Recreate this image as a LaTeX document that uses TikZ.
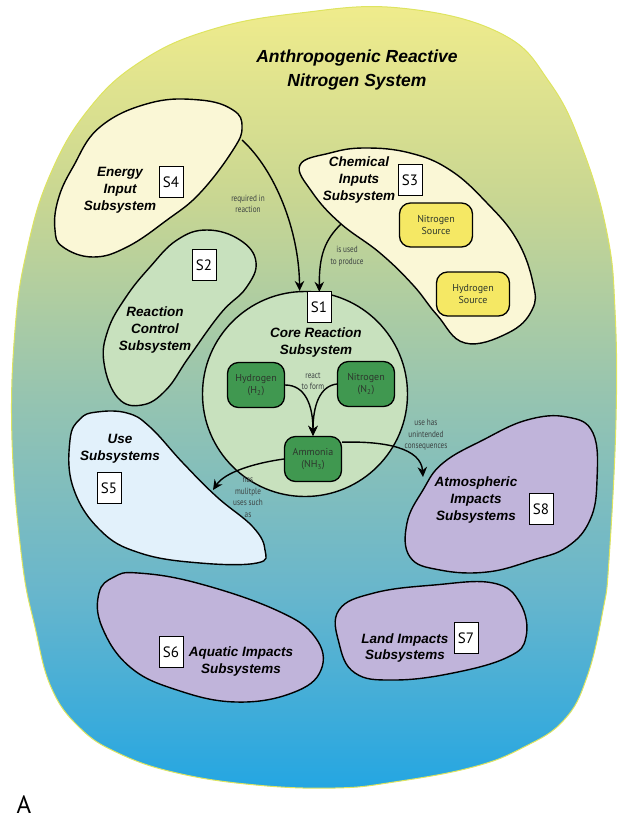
\documentclass[tikz,border=0pt]{standalone}
\usepackage{fontspec}
\setmainfont{Liberation Sans}
\newfontfamily\labfont{PT Sans}
\newfontfamily\narrowfont[FakeStretch=0.8]{PT Sans}
\usetikzlibrary{arrows.meta,shapes}

\definecolor{oTop}{RGB}{240,236,140}
\definecolor{oUp}{RGB}{200,214,146}
\definecolor{oMid}{RGB}{150,196,176}
\definecolor{oLow}{RGB}{104,182,204}
\definecolor{oBot}{RGB}{36,166,226}
\definecolor{outerline}{RGB}{222,228,96}
\definecolor{creamfill}{RGB}{250,247,214}
\definecolor{palegreen}{RGB}{200,225,190}
\definecolor{paleblue}{RGB}{226,241,251}
\definecolor{lavender}{RGB}{192,180,218}
\definecolor{srcyellow}{RGB}{245,232,100}
\definecolor{chemgreen}{RGB}{64,152,80}
\definecolor{darktext}{RGB}{45,55,45}
\definecolor{notegray}{RGB}{60,66,66}

\pgfdeclareverticalshading{outerfade}{100bp}{color(0bp)=(oBot); color(25bp)=(oBot); color(37.5bp)=(oLow); color(50bp)=(oMid); color(62.5bp)=(oUp); color(75bp)=(oTop); color(100bp)=(oTop)}

\begin{document}
\begin{tikzpicture}[x=1pt,y=-1pt,
  blob/.style={draw=black, line width=1.4pt},
  sbox/.style={draw, fill=white, line width=1pt, minimum width=24pt, minimum height=31pt, inner sep=0pt, font=\labfont\fontsize{15}{15}\selectfont},
  head/.style={align=center, font=\bfseries\itshape\fontsize{13.5}{17}\selectfont},
  srcbox/.style={draw, line width=1.3pt, rounded corners=11pt, fill=srcyellow, minimum width=73pt, minimum height=44pt, align=center, inner sep=1pt, text=darktext, font=\labfont\fontsize{10}{12.5}\selectfont},
  chembox/.style={srcbox, fill=chemgreen, minimum width=57pt, minimum height=45pt},
  flow/.style={line width=1.4pt, -{Stealth[length=10pt,width=9.5pt]}},
  note/.style={align=center, text=notegray, font=\narrowfont\fontsize{9}{11.5}\selectfont}]

\useasboundingbox (0,0) rectangle (618,823);

\shadedraw[shading=outerfade, draw=outerline, line width=1pt] plot[smooth cycle, tension=0.7] coordinates {
  (400,8) (500,33) (550,83) (583,150) (607,233) (615,310) (616,420) (609,560)
  (603,610) (587,677) (564,720) (524,747) (473,767) (394,782) (335,788) (256,785)
  (177,773) (118,753) (79,727) (51,687) (35,627) (22,560) (12,440) (15,330)
  (27,250) (50,175) (88,110) (140,62) (210,30) (300,13)};

\node[align=center, font=\bfseries\itshape\fontsize{17.5}{24}\selectfont] (title) at (357,70) {Anthropogenic Reactive\\Nitrogen System};

% outer subsystems
\draw[blob, fill=creamfill] plot[smooth cycle, tension=0.7] coordinates {
  (200,100) (233,110) (242,127) (233,150) (200,193) (167,220) (127,247) (93,257)
  (63,247) (55,230) (58,200) (73,167) (100,127) (150,103)};
\draw[blob, fill=palegreen] plot[smooth cycle, tension=0.7] coordinates {
  (207,230) (240,240) (256,262) (246,288) (221,313) (189,357) (166,390) (142,405)
  (118,398) (104,363) (108,330) (126,297) (150,267) (177,240)};
\draw[blob, fill=creamfill] plot[smooth cycle, tension=0.7] coordinates {
  (300,165) (330,153) (365,148) (410,153) (450,170) (487,203) (517,240) (533,283)
  (532,310) (508,333) (465,343) (437,315) (413,285) (380,253) (340,223) (312,192)};
\draw[blob, fill=paleblue] plot[smooth cycle, tension=0.7] coordinates {
  (97,412) (127,413) (150,427) (183,463) (217,497) (253,527) (265,550) (257,563)
  (200,563) (140,553) (100,530) (73,487) (70,440) (80,419)};
\draw[blob, fill=lavender] plot[smooth cycle, tension=0.7] coordinates {
  (567,417) (593,433) (597,480) (590,520) (567,547) (533,560) (487,572) (440,570)
  (410,557) (407,523) (423,490) (443,463) (483,440) (527,420)};
\draw[blob, fill=lavender] plot[smooth cycle, tension=0.7] coordinates {
  (138,573) (197,583) (276,610) (315,637) (321,670) (292,693) (236,702) (177,690)
  (130,667) (102,627) (99,593) (114,577)};
\draw[blob, fill=lavender] plot[smooth cycle, tension=0.7] coordinates {
  (339,610) (374,593) (434,585) (493,583) (520,603) (526,637) (508,657) (453,673)
  (394,680) (355,673) (339,643)};

\node[circle, draw, line width=1.4pt, fill=palegreen, minimum size=205pt, inner sep=0pt] (core) at (305,394) {};

\coordinate (energyout) at (242,140);
\coordinate (chemout) at (341,224);
\coordinate (usein) at (213,490);
\coordinate (atmoin) at (423,477);

% titles and tags
\node[head] (energy) at (120,190) {Energy\\Input\\Subsystem};
\node[head] (control) at (155,330) {Reaction\\Control\\Subsystem};
\node[head] (chemical) at (359,180) {Chemical\\Inputs\\Subsystem};
\node[head] (corename) at (316,343) {Core Reaction\\Subsystem};
\node[head] (use) at (120,449) {Use\\Subsystems};
\node[head] (atmo) at (476,500) {Atmospheric\\Impacts\\Subsystems};
\node[head] (aquatic) at (241,661) {Aquatic Impacts\\Subsystems};
\node[head] (land) at (405,648) {Land Impacts\\Subsystems};

\node[sbox] (s1) at (319,307) {S1};
\node[sbox] (s2) at (204,265) {S2};
\node[sbox] (s3) at (410,180) {S3};
\node[sbox] (s4) at (171,182) {S4};
\node[sbox] (s5) at (109,488) {S5};
\node[sbox] (s6) at (171,652) {S6};
\node[sbox] (s7) at (466,638) {S7};
\node[sbox] (s8) at (541,509) {S8};

\node[srcbox] (nsource) at (436,225) {Nitrogen\\Source};
\node[srcbox] (hsource) at (473,294) {Hydrogen\\Source};

\node[chembox] (h2) at (256,385) {Hydrogen\\(H\textsubscript{2})};
\node[chembox] (n2) at (366,384) {Nitrogen\\(N\textsubscript{2})};
\node[chembox] (nh3) at (313,459) {Ammonia\\(NH\textsubscript{3})};

% links
\node[note] (reqlab) at (248,204) {required in\\reaction};
\node[note] (usedlab) at (347,256) {is used\\to produce};
\node[note] (reactlab) at (313,381) {react\\to form};
\node[note] (haslab) at (248,497) {has\\mulitple\\uses such\\as};
\node[note] (conslab) at (426,435) {use has\\unintended\\consequences};

\draw[flow] (energyout) .. controls (275,170) and (299,230) .. (core.93);
\draw[flow] (chemout) .. controls (325,240) and (319,255) .. (core.82);
\draw[flow] (h2.east) .. controls (305,385) and (313,405) .. (nh3.north);
\draw[flow] (n2.west) .. controls (320,386) and (313,405) .. (nh3.north);
\draw[flow] (nh3.west) .. controls (255,463) and (225,472) .. (usein);
\draw[flow] (nh3.30) .. controls (385,441) and (421,448) .. (atmoin);

\node[font=\labfont\fontsize{25}{25}\selectfont] (panel) at (24,805) {A};
\end{tikzpicture}
\end{document}
